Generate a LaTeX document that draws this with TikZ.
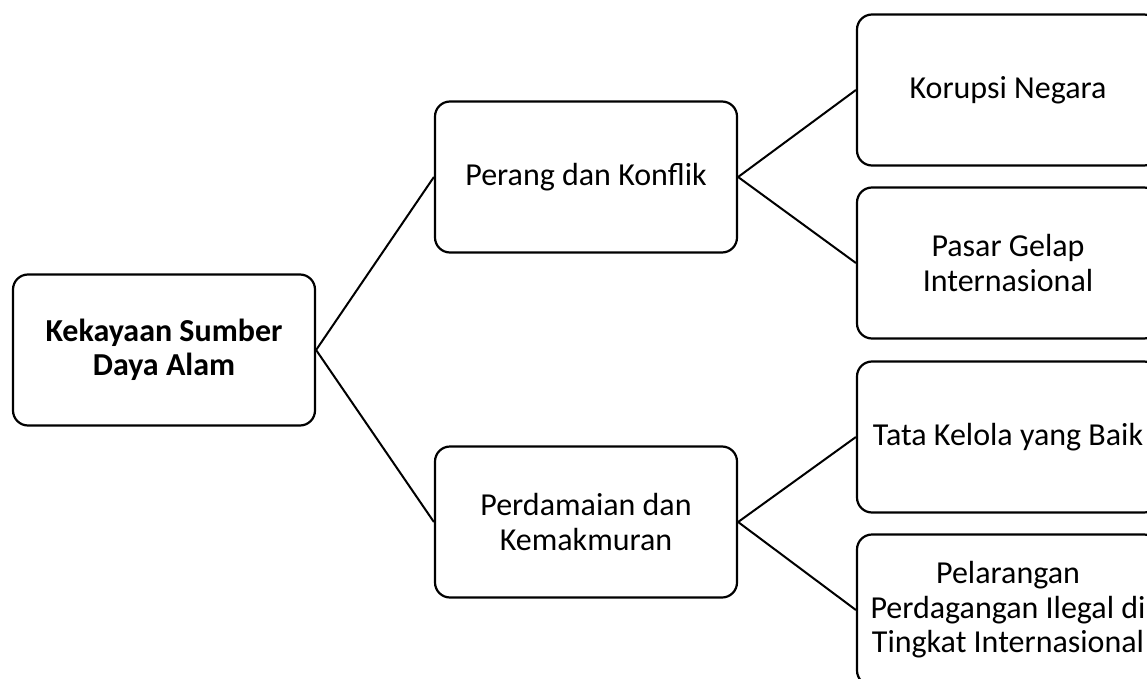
\documentclass[tikz,border=0pt]{standalone}
\usepackage{fontspec}
\setmainfont{Carlito}
\begin{document}
\begin{tikzpicture}[x=1pt,y=-1pt,
  box/.style={draw=black, line width=2.2pt, rounded corners=15pt, fill=white,
    minimum width=302pt, minimum height=151pt, align=center, inner sep=0pt,
    font=\fontsize{32}{34.5}\selectfont},
  link/.style={draw=black, line width=2pt}]
\useasboundingbox (0,0) rectangle (1147,679);
\clip (0,0) rectangle (1147,679);
\node[box, font=\fontsize{32}{34.5}\selectfont\bfseries] (root) at (164,350) {Kekayaan Sumber\\Daya Alam};
\node[box] (war) at (586,177) {Perang dan Konflik};
\node[box] (peace) at (586,522) {Perdamaian dan\\Kemakmuran};
\node[box] (kor) at (1008,90) {Korupsi Negara};
\node[box] (pasar) at (1008,263) {Pasar Gelap\\Internasional};
\node[box] (tata) at (1008,437) {Tata Kelola yang Baik};
\node[box] (pel) at (1008,610) {Pelarangan\\Perdagangan Ilegal di\\Tingkat Internasional};
\draw[link] (root.east) -- (war.west);
\draw[link] (root.east) -- (peace.west);
\draw[link] (war.east) -- (kor.west);
\draw[link] (war.east) -- (pasar.west);
\draw[link] (peace.east) -- (tata.west);
\draw[link] (peace.east) -- (pel.west);
\end{tikzpicture}
\end{document}
